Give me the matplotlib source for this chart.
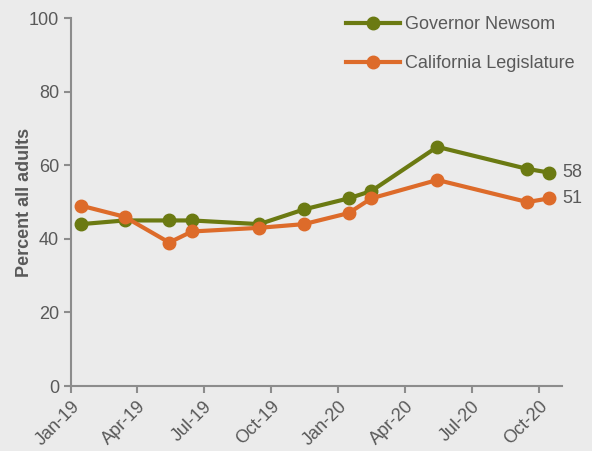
import matplotlib
matplotlib.use("Agg")
import matplotlib.pyplot as plt
import matplotlib.dates as mdates
import pandas as pd

plt.rcParams['font.family'] = ['Liberation Sans', 'DejaVu Sans']

# survey dates and approval (%)
dates = pd.to_datetime(['2019-01-15', '2019-03-15', '2019-05-15', '2019-06-15',
                        '2019-09-15', '2019-11-15', '2020-01-15', '2020-02-15',
                        '2020-05-15', '2020-09-15', '2020-10-15'])
newsom = [44, 45, 45, 45, 44, 48, 51, 53, 65, 59, 58]
legislature = [49, 46, 39, 42, 43, 44, 47, 51, 56, 50, 51]

bg = '#EBEBEB'
green = '#6B7A12'
orange = '#DD6B2A'
grey = '#8C8C8C'
txt = '#595959'

fig = plt.figure(figsize=(5.92, 4.51), dpi=100, facecolor=bg)
ax = fig.add_axes([0.12, 0.144, 0.829, 0.816], facecolor=bg)

ax.plot(dates, newsom, color=green, lw=3, marker='o', ms=9, label='Governor Newsom')
ax.plot(dates, legislature, color=orange, lw=3, marker='o', ms=9, label='California Legislature')

ax.annotate(str(newsom[-1]), (dates[-1], newsom[-1]), xytext=(9, 0),
            textcoords='offset points', va='center', fontsize=13, color=txt)
ax.annotate(str(legislature[-1]), (dates[-1], legislature[-1]), xytext=(9, 0),
            textcoords='offset points', va='center', fontsize=13, color=txt)

ax.set_ylim(0, 100)
ax.set_yticks([0, 20, 40, 60, 80, 100])
ax.set_xlim(pd.Timestamp('2019-01-01'), pd.Timestamp('2020-11-01'))
ax.set_xticks(pd.to_datetime(['2019-01-01', '2019-04-01', '2019-07-01', '2019-10-01',
                              '2020-01-01', '2020-04-01', '2020-07-01', '2020-10-01']))
ax.xaxis.set_major_formatter(mdates.DateFormatter('%b-%y'))
plt.setp(ax.get_xticklabels(), rotation=45, ha='right', rotation_mode='anchor')

for s in ['top', 'right']:
    ax.spines[s].set_visible(False)
for s in ['left', 'bottom']:
    ax.spines[s].set_color(grey)
    ax.spines[s].set_linewidth(1.5)
ax.tick_params(colors=grey, labelcolor=txt, labelsize=13, width=1.5, length=5)

ax.set_ylabel('Percent all adults', fontsize=13, fontweight='bold', color=txt, labelpad=-3)

leg = ax.legend(loc='upper right', bbox_to_anchor=(1.06, 1.05), frameon=False,
                fontsize=13, handlelength=3, labelspacing=1.25, labelcolor=txt,
                handletextpad=0.3)

fig.savefig('out.png', dpi=100, facecolor=bg)
